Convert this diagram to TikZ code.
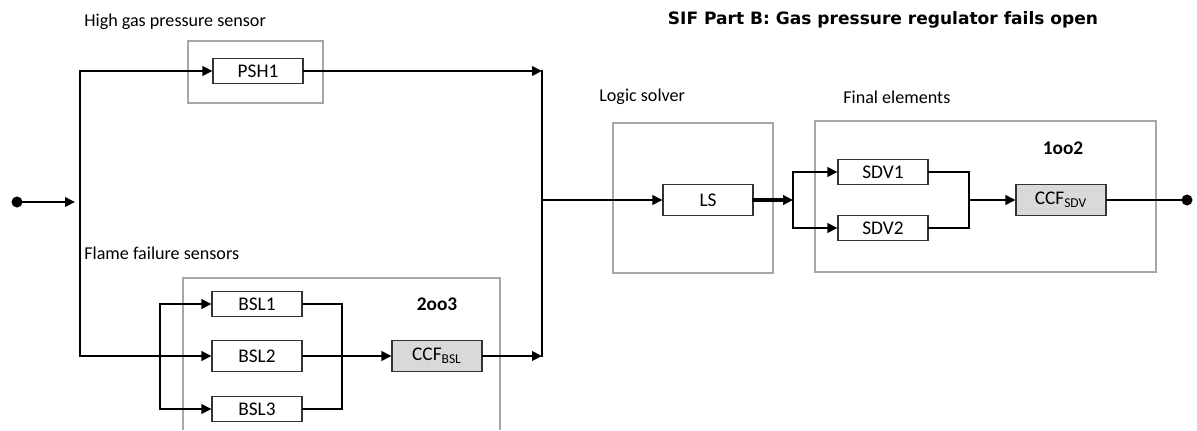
\documentclass[tikz,border=0pt]{standalone}
\usepackage{fontspec}
\setmainfont{Carlito}
\newfontfamily\titlefont{DejaVu Sans}
\usetikzlibrary{arrows.meta}

\begin{document}
\begin{tikzpicture}[
		x=0.02cm,y=-0.02cm,
		blk/.style={draw=black!80,fill=white,line width=0.6pt,minimum width=1.8cm,minimum height=0.5cm,inner sep=0pt,font=\fontsize{11}{13}\selectfont},
		tall/.style={minimum height=0.63cm},
		ccf/.style={blk,tall,fill=black!15},
		grp/.style={draw=black!35,line width=0.8pt},
		lbl/.style={anchor=west,inner sep=0pt,font=\fontsize{10.3}{12}\selectfont},
		vote/.style={inner sep=0pt,font=\bfseries\fontsize{11}{13}\selectfont},
		wire/.style={draw=black,line width=1.15pt,line cap=rect},
		flow/.style={wire,-{Triangle[length=2mm,width=1.9mm]}},
		term/.style={circle,fill=black,inner sep=0pt,minimum size=0.22cm}]
	\useasboundingbox (0,0) rectangle (1197,430);
	% subsystem frames
	\draw[grp] (188,41) rectangle (323,103);
	\draw[grp] (613,123) rectangle (773,273);
	\draw[grp] (815,121) rectangle (1156,272);
	\draw[grp] (183,430) |- (500,278) -- (500,430);
	% titles
	\node[font=\titlefont\bfseries\fontsize{9.7}{11}\selectfont] (title) at (883,20)
	{SIF Part B: Gas pressure regulator fails open};
	\node[lbl] (lhigh) at (84,22) {High gas pressure sensor};
	\node[lbl] (lflame) at (84,253) {Flame failure sensors};
	\node[lbl] (llogic) at (599,97) {Logic solver};
	\node[lbl] (lfinal) at (843,97) {Final elements};
	\node[vote] (v23) at (437,304) {2oo3};
	\node[vote] (v12) at (1063,148) {1oo2};
	% blocks
	\node[blk] (psh1) at (258,71) {PSH1};
	\node[blk] (bsl1) at (257,304) {BSL1};
	\node[blk,tall] (bsl2) at (257,356) {BSL2};
	\node[blk] (bsl3) at (257,409) {BSL3};
	\node[ccf] (ccfb) at (437,356) {CCF\textsubscript{BSL}};
	\node[blk,tall] (ls) at (708,200) {LS};
	\foreach \i/\y in {1/172,2/228}
	\node[blk] (sdv\i) at (883,\y) {SDV\i};
	\node[ccf] (ccfs) at (1061,200) {CCF\textsubscript{SDV}};
	\node[term] (tin) at (17,202) {};
	\node[term] (tout) at (1187,200) {};
	% junctions
	\coordinate (ain) at (75,202);
	\coordinate (ltop) at (80,71);
	\coordinate (lbot) at (80,356);
	\coordinate (bsplit) at (160,356);
	\coordinate (bjoin) at (342,356);
	\coordinate (rtop) at (542,71);
	\coordinate (rmid) at (542,200);
	\coordinate (rbot) at (542,356);
	\coordinate (lsout) at (793,200);
	\coordinate (sjoin) at (969,200);
	% sensors
	\draw[flow] (tin) -- (ain);
	\draw[wire] (ltop) -- (lbot);
	\draw[flow] (ltop) -- (psh1);
	\draw[flow] (lbot) -- (bsl2);
	\draw[wire] (bsplit |- bsl1) -- (bsplit |- bsl3);
	\foreach \i in {1,3}
	\draw[flow] (bsplit |- bsl\i) -- (bsl\i);
	\draw[wire] (bsl1.east) -| (bjoin) |- (bsl3.east);
	\draw[flow] (bsl2) -- (ccfb);
	\draw[flow] (ccfb) -- (rbot);
	\draw[flow] (psh1) -- (rtop);
	\draw[wire] (rtop) -- (rbot);
	% logic solver and final elements
	\draw[flow] (rmid) -- (ls);
	\draw[flow,line width=1.8pt] (ls) -- (lsout);
	\draw[wire] (lsout |- sdv1) -- (lsout |- sdv2);
	\foreach \i in {1,2}
	\draw[flow] (lsout |- sdv\i) -- (sdv\i);
	\draw[wire] (sdv1.east) -| (sjoin) |- (sdv2.east);
	\draw[flow] (sjoin) -- (ccfs);
	\draw[wire] (ccfs) -- (tout);
\end{tikzpicture}
\end{document}
